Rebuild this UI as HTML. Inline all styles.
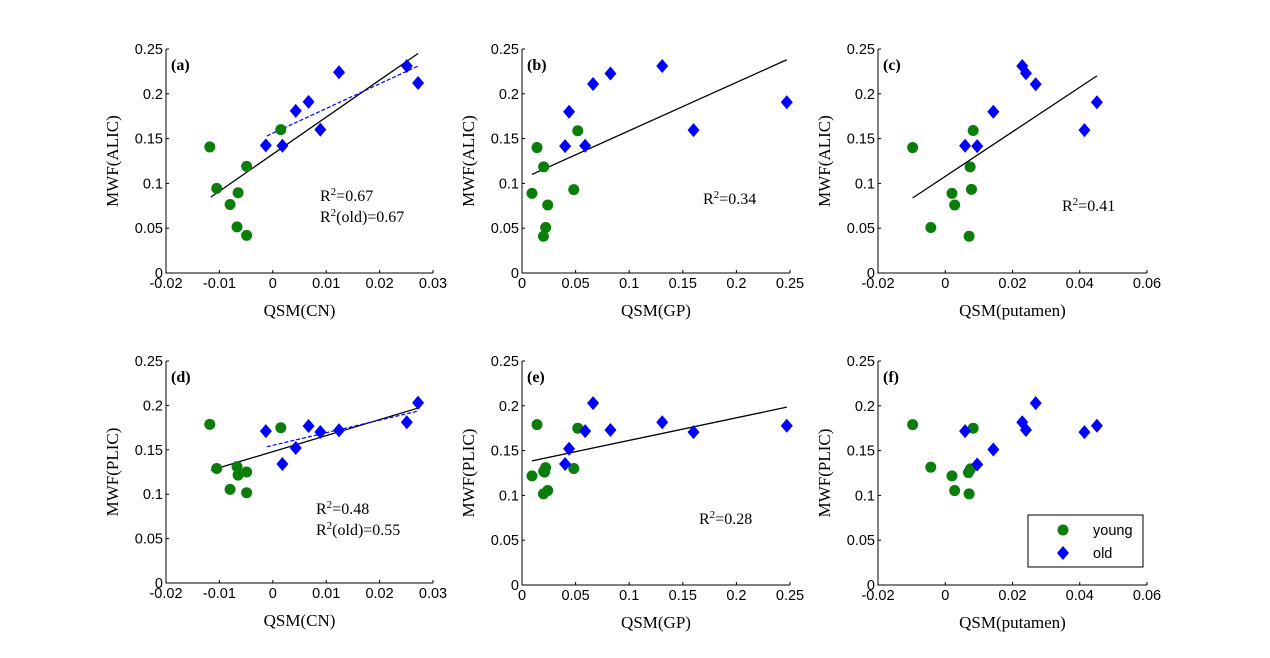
<!DOCTYPE html>
<html><head><meta charset="utf-8">
<style>
body{margin:0;background:#fff;}
svg{display:block;}
.tick{font-family:"Liberation Sans",Arial,sans-serif;font-size:14.5px;fill:#000;}
.ttl{font-family:"Liberation Serif","Times New Roman",serif;font-size:17px;fill:#000;}
.ann{font-family:"Liberation Serif","Times New Roman",serif;font-size:16px;fill:#000;}
.plab{font-family:"Liberation Serif","Times New Roman",serif;font-size:16px;font-weight:bold;fill:#000;}
</style></head>
<body>
<svg id="fig" width="1270" height="658" viewBox="0 0 1270 658" xmlns="http://www.w3.org/2000/svg"></svg>
<script>
// ---- data ----
const aYoungX=[-0.0118,-0.0105,-0.008,-0.0065,-0.0067,-0.0049,-0.0049,0.0015];
const aYoungY=[0.1407,0.0944,0.0765,0.0896,0.0515,0.042,0.119,0.160];
const aOldX=[-0.0013,0.0018,0.0043,0.0067,0.0089,0.0124,0.0251,0.0272];
const aOldY=[0.1425,0.142,0.181,0.191,0.160,0.224,0.231,0.212];
const aFit=[-0.0116,0.0847,0.0272,0.245];
const aFitOld=[-0.0011,0.153,0.0272,0.231];

const bYoungX=[0.014,0.0202,0.0093,0.024,0.0221,0.020,0.0483,0.052];
const bYoungY=[0.140,0.1185,0.0889,0.0759,0.0508,0.041,0.093,0.1588];
const bOldX=[0.0402,0.0439,0.0589,0.0663,0.0825,0.1308,0.160,0.247];
const bOldY=[0.1416,0.180,0.142,0.211,0.2227,0.231,0.1595,0.1906];
const bFit=[0.0093,0.110,0.247,0.238];

const cYoungX=[-0.0097,0.0074,0.002,0.0028,-0.0043,0.0071,0.0078,0.0083];
const cYoungY=[0.140,0.1185,0.0889,0.0759,0.0508,0.041,0.0934,0.159];
const cOldX=[0.0059,0.0095,0.0143,0.0451,0.0414,0.0229,0.024,0.0269];
const cOldY=[0.142,0.1416,0.180,0.1906,0.1595,0.231,0.223,0.2107];
const cFit=[-0.0097,0.0837,0.0451,0.220];

const dYoungX=[-0.0118,-0.0105,-0.008,-0.0067,-0.0065,-0.0049,-0.0049,0.0015];
const dYoungY=[0.1787,0.129,0.1054,0.131,0.1215,0.1017,0.125,0.1749];
const dOldX=[-0.0013,0.0018,0.0043,0.0067,0.0089,0.0124,0.0251,0.0272];
const dOldY=[0.171,0.134,0.152,0.1768,0.170,0.172,0.181,0.203];
const dFit=[-0.0116,0.127,0.0272,0.197];
const dFitOld=[-0.0011,0.1535,0.0272,0.1936];

const eYoungX=[0.014,0.0202,0.0093,0.021,0.022,0.020,0.024,0.0483,0.052];
const eYoungY=[0.179,0.127,0.1218,0.126,0.131,0.1017,0.1054,0.130,0.175];
const eOldX=[0.0402,0.0439,0.0589,0.0663,0.0825,0.1308,0.160,0.247];
const eOldY=[0.135,0.152,0.1717,0.203,0.173,0.1817,0.1706,0.1777];
const eFit=[0.0093,0.1385,0.247,0.1985];

const fYoungX=[-0.0097,-0.0043,0.002,0.0028,0.0071,0.0069,0.0075,0.0083];
const fYoungY=[0.179,0.1315,0.1218,0.1054,0.1017,0.1255,0.1296,0.175];
const fOldX=[0.0059,0.0095,0.0143,0.0229,0.024,0.0269,0.0414,0.0451];
const fOldY=[0.1717,0.1345,0.1512,0.1817,0.173,0.203,0.1706,0.1777];

const yTicks=[0,0.05,0.1,0.15,0.2,0.25];
const yTickLabels=["0","0.05","0.1","0.15","0.2","0.25"];
const cnTicks=[-0.02,-0.01,0,0.01,0.02,0.03];
const cnTickLabels=["-0.02","-0.01","0","0.01","0.02","0.03"];
const gpTicks=[0,0.05,0.1,0.15,0.2,0.25];
const gpTickLabels=["0","0.05","0.1","0.15","0.2","0.25"];
const puTicks=[-0.02,0,0.02,0.04,0.06];
const puTickLabels=["-0.02","0","0.02","0.04","0.06"];

// ---- drawing ----
const NS="http://www.w3.org/2000/svg";
const svg=document.getElementById('fig');
function mk(tag,attrs,parent,text){const e=document.createElementNS(NS,tag);for(const k in attrs)e.setAttribute(k,attrs[k]);if(text!==undefined)e.textContent=text;(parent||svg).appendChild(e);return e;}

const GREEN="#0b7d0b",BLUE="#0000ff";
const panels=[
 {id:'a',x0:166,x1:433,y0:49,y1:273,xmin:-0.02,xmax:0.03,xt:cnTicks,xl:cnTickLabels,xt2:'QSM(CN)',yt2:'MWF(ALIC)',yx:aYoungX,yy:aYoungY,ox:aOldX,oy:aOldY,fit:aFit,fitOld:aFitOld,ann:[['R','=0.67',320,201],['R','(old)=0.67',320,222]]},
 {id:'b',x0:522,x1:790,y0:49,y1:273,xmin:0,xmax:0.25,xt:gpTicks,xl:gpTickLabels,xt2:'QSM(GP)',yt2:'MWF(ALIC)',yx:bYoungX,yy:bYoungY,ox:bOldX,oy:bOldY,fit:bFit,ann:[['R','=0.34',703,204]]},
 {id:'c',x0:878,x1:1147,y0:49,y1:273,xmin:-0.02,xmax:0.06,xt:puTicks,xl:puTickLabels,xt2:'QSM(putamen)',yt2:'MWF(ALIC)',yx:cYoungX,yy:cYoungY,ox:cOldX,oy:cOldY,fit:cFit,ann:[['R','=0.41',1062,211]]},
 {id:'d',x0:166,x1:433,y0:361,y1:583,xmin:-0.02,xmax:0.03,xt:cnTicks,xl:cnTickLabels,xt2:'QSM(CN)',yt2:'MWF(PLIC)',yx:dYoungX,yy:dYoungY,ox:dOldX,oy:dOldY,fit:dFit,fitOld:dFitOld,ann:[['R','=0.48',316,514],['R','(old)=0.55',316,535]]},
 {id:'e',x0:522,x1:790,y0:361,y1:585,xmin:0,xmax:0.25,xt:gpTicks,xl:gpTickLabels,xt2:'QSM(GP)',yt2:'MWF(PLIC)',yx:eYoungX,yy:eYoungY,ox:eOldX,oy:eOldY,fit:eFit,ann:[['R','=0.28',699,524]]},
 {id:'f',x0:878,x1:1147,y0:361,y1:585,xmin:-0.02,xmax:0.06,xt:puTicks,xl:puTickLabels,xt2:'QSM(putamen)',yt2:'MWF(PLIC)',yx:fYoungX,yy:fYoungY,ox:fOldX,oy:fOldY,fit:null,ann:[]}
];

panels.forEach(p=>{
 const g=mk('g',{});
 
 
 const sx=v=>p.x0+(v-p.xmin)/(p.xmax-p.xmin)*(p.x1-p.x0);
 const sy=v=>p.y1-(v/0.25)*(p.y1-p.y0);
 const ax=mk('path',{d:`M${p.x0},${p.y0}V${p.y1}H${p.x1}`,fill:'none',stroke:'#000','stroke-width':1},g);
 
 
 yTicks.forEach((t,i)=>{
  const y=sy(t);
  mk('line',{x1:p.x0,x2:p.x0+3,y1:y,y2:y,stroke:'#000'},g);
  const tl=mk('text',{x:p.x0-3,y:y+5,'text-anchor':'end',class:'tick'},g,yTickLabels[i]);
  
  
 });
 p.xt.forEach((t,i)=>{
  const x=sx(t);
  mk('line',{x1:x,x2:x,y1:p.y1,y2:p.y1-3,stroke:'#000'},g);
  const tl=mk('text',{x:x,y:p.y1+15,'text-anchor':'middle',class:'tick'},g,p.xl[i]);
  
  
 });
 const xt=mk('text',{x:(p.x0+p.x1)/2,y:p.y1+43,'text-anchor':'middle',class:'ttl'},g,p.xt2);
 
 
 const cy=(p.y0+p.y1)/2, cx=p.x0-48;
 const yt=mk('text',{x:cx,y:cy,'text-anchor':'middle',transform:`rotate(-90 ${cx} ${cy})`,class:'ttl'},g,p.yt2);
 
 
 const pl=mk('text',{x:p.x0+5,y:p.y0+21,class:'plab'},g,'('+p.id+')');
 
 
 if(p.fit){
  const l=mk('line',{x1:sx(p.fit[0]),y1:sy(p.fit[1]),x2:sx(p.fit[2]),y2:sy(p.fit[3]),stroke:'#000','stroke-width':1.3},g);
  
  
 }
 if(p.fitOld){
  const l=mk('line',{x1:sx(p.fitOld[0]),y1:sy(p.fitOld[1]),x2:sx(p.fitOld[2]),y2:sy(p.fitOld[3]),stroke:BLUE,'stroke-width':1.2,'stroke-dasharray':'4,2'},g);
  
  
 }
 p.yx.forEach((v,i)=>{
  const c=mk('circle',{cx:sx(v),cy:sy(p.yy[i]),r:5.5,fill:GREEN},g);
  
  
 });
 p.ox.forEach((v,i)=>{
  const x=sx(v),y=sy(p.oy[i]);
  const d=mk('path',{d:`M${x},${y-7}L${x+6},${y}L${x},${y+7}L${x-6},${y}Z`,fill:BLUE},g);
  
  
 });
 p.ann.forEach(a=>{
  const t=mk('text',{x:a[2],y:a[3],class:'ann'},g);
  
  
  t.appendChild(document.createTextNode(a[0]));
  mk('tspan',{dy:-6,'font-size':'11px'},t,'2');
  mk('tspan',{dy:6},t,a[1]);
 });
});

// legend
const lg=mk('g',{});


mk('rect',{x:1028,y:515,width:115,height:52,fill:'#fff',stroke:'#000','stroke-width':1},lg);
const ly=mk('circle',{cx:1063,cy:530,r:5.5,fill:GREEN},lg);


const lyt=mk('text',{x:1093,y:535,class:'tick'},lg,'young');


const lo=mk('path',{d:'M1063,546L1069,553L1063,560L1057,553Z',fill:BLUE},lg);


const lot=mk('text',{x:1093,y:558,class:'tick'},lg,'old');


</script>
</body></html>
